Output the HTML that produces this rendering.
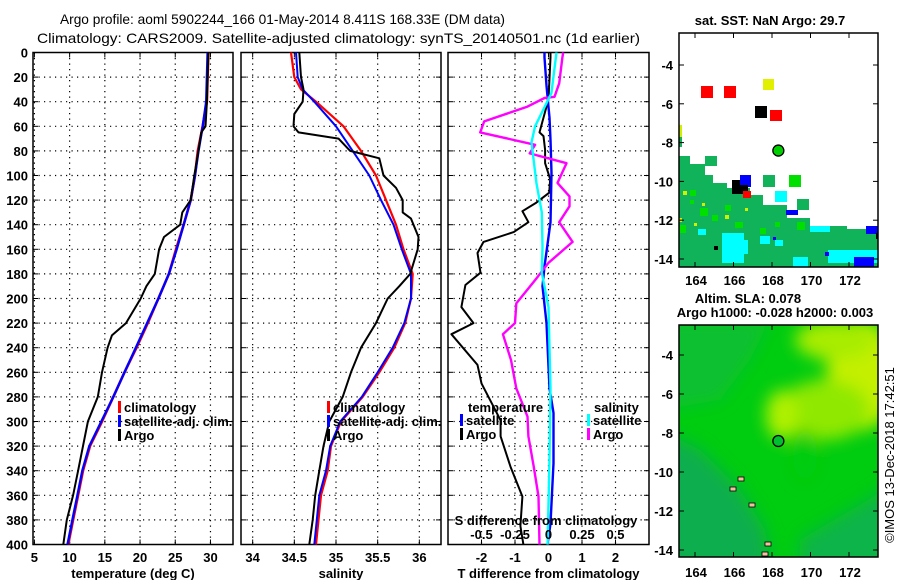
<!DOCTYPE html>
<html><head><meta charset="utf-8">
<style>
html,body{margin:0;padding:0;background:#fff;}
svg{display:block;font-family:"Liberation Sans",Arial,sans-serif;}
.tk{font-size:13px;font-weight:bold;}
</style></head>
<body>
<svg id="fig" width="900" height="580" viewBox="0 0 900 580">
<rect width="900" height="580" fill="#fff"/>
<text x="60" y="24" font-size="14" textLength="445" lengthAdjust="spacingAndGlyphs">Argo profile: aoml 5902244_166 01-May-2014 8.411S 168.33E (DM data)</text>
<text x="37" y="43" font-size="14" textLength="603" lengthAdjust="spacingAndGlyphs">Climatology: CARS2009. Satellite-adjusted climatology: synTS_20140501.nc (1d earlier)</text>
<g id="panels"></g>
<g id="maps"></g>
</svg>
<script>
// ---------- data ----------
const depths = [0,20,40,60,80,100,120,140,160,180,200,220,240,260,280,300,320,340,360,380,400];
const tempClim = [29.7,29.6,29.5,28.9,28.2,27.8,27.2,26.2,25.1,24.1,22.6,21.1,19.5,17.8,16.2,14.6,12.9,11.9,11.2,10.5,9.8];
const tempSat  = [29.6,29.5,29.4,28.9,28.3,27.8,27.2,26.2,25.2,24.1,22.6,21.0,19.4,17.8,16.2,14.5,12.8,11.8,11.1,10.4,9.7];
const argoDepths = [0,20,40,60,65,80,100,120,130,140,150,160,180,190,200,220,230,240,260,280,300,320,340,360,380,400];
const tempArgo = [29.7,29.6,29.5,29.3,28.7,28.3,27.7,27.2,26.0,25.7,23.4,22.7,22.1,20.9,20.1,18.0,16.0,15.4,14.6,14.0,12.6,11.9,11.2,10.5,9.6,9.1];
const salDepths = [0,20,30,40,60,80,100,120,140,160,180,200,220,240,260,280,300,320,340,360,380,400];
const salClim = [34.46,34.50,34.58,34.76,35.09,35.30,35.48,35.60,35.72,35.81,35.92,35.90,35.83,35.70,35.52,35.32,35.06,34.94,34.90,34.82,34.79,34.76];
const salSat  = [34.52,34.54,34.60,34.74,35.00,35.20,35.40,35.54,35.69,35.79,35.90,35.90,35.82,35.68,35.50,35.31,35.05,34.93,34.88,34.80,34.77,34.74];
const salArgoDepths = [0,20,30,40,50,60,65,70,80,86,100,110,120,130,135,150,160,180,190,200,220,240,260,280,300,320,340,360,380,400];
const salArgo = [34.56,34.58,34.61,34.60,34.50,34.49,34.55,35.03,35.17,35.52,35.57,35.72,35.80,35.80,35.90,35.99,35.98,35.89,35.76,35.62,35.48,35.30,35.18,35.08,34.92,34.85,34.80,34.75,34.72,34.68];
const dTDepths = [0,4,38,65,68,79,90,103,114,122,129,138,146,154,163,179,189,207,220,229,254,269,299,312,337,361,385,400];
const dTArgo = [0.06,0.06,0,-0.27,-0.15,-0.1,-0.1,0.05,0.02,-0.36,-0.78,-0.6,-1.04,-1.94,-2.12,-2.03,-2.48,-2.6,-2.24,-2.9,-2.12,-2.0,-1.43,-1.43,-1.13,-0.78,-0.84,-0.75];
const dSDepths = [0,4,25,36,37,44,56,65,75,82,90,106,117,125,138,154,171,185,204,220,229,250,273,296,312,337,361,400];
const dSArgo = [0.11,0.104,0.08,0.045,-0.03,-0.157,-0.48,-0.51,-0.1,-0.14,0.134,0.067,0.157,0.157,0.08,0.18,0,-0.1,-0.24,-0.25,-0.34,-0.28,-0.24,-0.157,-0.15,-0.11,-0.075,-0.067];
const dSSatDepths = [0,33,60,73,106,130,158,179,207,273,334,400];
const dSSat = [0.06,0.022,-0.1,-0.127,-0.09,-0.05,-0.045,-0.05,0,0.015,0.007,-0.007];
const dTSatDepths = [0,4,27,53,71,98,138,174,190,220,273,293,334,383,400];
const dTSat = [-0.12,-0.12,-0.06,0.03,0.06,0.09,0.06,-0.12,-0.18,-0.06,0.03,0.15,0.15,0.06,-0.03];
const depthTicks = [0,20,40,60,80,100,120,140,160,180,200,220,240,260,280,300,320,340,360,380,400];
const tTicks = [5,10,15,20,25,30];
const sTicks = [34,34.5,35,35.5,36];
const dTTicks = [-2,-1,0,1,2];
const dSTicks = ["-0.5","-0.25","0","0.25","0.5"];
const lonTicks = [164,166,168,170,172];
const latTicks = [-4,-6,-8,-10,-12,-14];

// ---------- helpers ----------
const NS="http://www.w3.org/2000/svg";
function mk(tag,attrs,parent){const e=document.createElementNS(NS,tag);for(const k in attrs)e.setAttribute(k,attrs[k]);(parent||document.getElementById('fig')).appendChild(e);return e;}
const Y0=52.5, Y1=544.5;
const yD=d=>Y0+(d/400)*(Y1-Y0);
function lin(d0,d1,r0,r1){return v=>r0+(v-d0)/(d1-d0)*(r1-r0);}
const panels=[
 {x0:33,x1:233,name:'temperature-panel',sx:lin(4.8,33.2,33,233),ticks:tTicks,title:'temperature (deg C)'},
 {x0:241,x1:441,name:'salinity-panel',sx:lin(33.86,36.26,241,441),ticks:sTicks,title:'salinity'},
 {x0:448,x1:649,name:'difference-panel',sx:lin(-3,3,448,649),ticks:dTTicks,title:'T difference from climatology'}
];
const G=document.getElementById('panels');
panels.forEach((p,pi)=>{
  const g=mk('g',{},G);
  
  
  depthTicks.forEach(d=>{
    const y=yD(d);
    if(d>0&&d<400){
      const l=mk('line',{x1:p.x0,x2:p.x1,y1:y,y2:y,stroke:'#000','stroke-width':1.2,'stroke-dasharray':'1.2,4.3'},g);
      
      
    }
    mk('line',{x1:p.x0,x2:p.x0+5,y1:y,y2:y,stroke:'#000','stroke-width':1},g);
    mk('line',{x1:p.x1-5,x2:p.x1,y1:y,y2:y,stroke:'#000','stroke-width':1},g);
    if(pi===0){
      const t=mk('text',{x:28,y:y+5,'text-anchor':'end',class:'tk'},g);
      t.textContent=d;
      
      
    }
  });
  p.ticks.forEach(v=>{
    const x=p.sx(v);
    const l=mk('line',{x1:x,x2:x,y1:Y0,y2:Y1,stroke:'#000','stroke-width':1.2,'stroke-dasharray':'1.2,4.3'},g);
    
    
    mk('line',{x1:x,x2:x,y1:Y1-5,y2:Y1,stroke:'#000'},g);
    mk('line',{x1:x,x2:x,y1:Y0,y2:Y0+5,stroke:'#000'},g);
    const t=mk('text',{x:x,y:562,'text-anchor':'middle',class:'tk'},g);
    t.textContent=v;
    
    
  });
  const b=mk('rect',{x:p.x0,y:Y0,width:p.x1-p.x0,height:Y1-Y0,fill:'none',stroke:'#000','stroke-width':1.5},g);
  
  
  const tt=mk('text',{x:(p.x0+p.x1)/2,y:578,'text-anchor':'middle',class:'tk'},g);
  tt.textContent=p.title;
  
  
  p.g=g;
});
function series(p,ds,vs,color,name,w,scale){
  const pts=ds.map((d,i)=>p.sx(vs[i]*(scale||1)).toFixed(1)+','+yD(d).toFixed(1)).join(' ');
  const l=mk('polyline',{points:pts,fill:'none',stroke:color,'stroke-width':w||2.2,'stroke-linejoin':'round'},p.g);
  
  
}
series(panels[0],depths,tempClim,'#f00','temperature-climatology-line',2.6);
series(panels[0],depths,tempSat,'#00f','temperature-satellite-line',2.4);
series(panels[0],argoDepths,tempArgo,'#000','temperature-argo-line',2);
series(panels[1],salDepths,salClim,'#f00','salinity-climatology-line',2.2);
series(panels[1],salDepths,salSat,'#00f','salinity-satellite-line',2);
series(panels[1],salArgoDepths,salArgo,'#000','salinity-argo-line',2);
series(panels[2],dTDepths,dTArgo,'#000','t-diff-argo-line',2);
series(panels[2],dTSatDepths,dTSat,'#00f','t-diff-satellite-line',2.4);
series(panels[2],dSDepths,dSArgo,'#f0f','s-diff-argo-line',2.4,4);
series(panels[2],dSSatDepths,dSSat,'#0ff','s-diff-satellite-line',2.4,4);

function legend(g,x,y,color,text,name){
  if(color){mk('rect',{x:x,y:y-11,width:3,height:12,fill:color},g);}
  const t=mk('text',{x:x+6,y:y,class:'tk'},g);
  t.textContent=text;
  
  
}
legend(panels[0].g,118,412,'#f00','climatology','legend-climatology');
legend(panels[0].g,118,426,'#00f','satellite-adj. clim.','legend-satellite-adj');
legend(panels[0].g,118,440,'#000','Argo','legend-argo');
legend(panels[1].g,327,412,'#f00','climatology','legend-climatology');
legend(panels[1].g,327,426,'#00f','satellite-adj. clim.','legend-satellite-adj');
legend(panels[1].g,327,440,'#000','Argo','legend-argo');
legend(panels[2].g,462,412,null,'temperature','legend-temperature-heading');
legend(panels[2].g,460,425,'#00f','satellite','legend-t-satellite');
legend(panels[2].g,460,439,'#000','Argo','legend-t-argo');
legend(panels[2].g,588,412,null,'salinity','legend-salinity-heading');
legend(panels[2].g,587,425,'#0ff','satellite','legend-s-satellite');
legend(panels[2].g,587,439,'#f0f','Argo','legend-s-argo');
{
  const g=panels[2].g;
  const t=mk('text',{x:546,y:525,'text-anchor':'middle',class:'tk'},g);
  t.textContent='S difference from climatology';
  
  
  dSTicks.forEach(s=>{
    const tx=mk('text',{x:panels[2].sx(parseFloat(s)*4),y:539,'text-anchor':'middle',class:'tk'},g);
    tx.textContent=s;
    
    
  });
}

// ---------- maps ----------
const M=document.getElementById('maps');
const lonX=lin(164,172,695,849);
function mapAxes(g,top,bot,yA,yB,labelY){
  const latY=lin(-4,-14,yA,yB);
  latTicks.forEach(v=>{
    const y=latY(v);
    mk('line',{x1:679,x2:684,y1:y,y2:y,stroke:'#000'},g);
    mk('line',{x1:873,x2:878,y1:y,y2:y,stroke:'#000'},g);
    const t=mk('text',{x:673,y:y+5,'text-anchor':'end',class:'tk'},g);
    t.textContent=v;
    
    
  });
  lonTicks.forEach(v=>{
    const x=lonX(v);
    mk('line',{x1:x,x2:x,y1:top,y2:top+5,stroke:'#000'},g);
    mk('line',{x1:x,x2:x,y1:bot-5,y2:bot,stroke:'#000'},g);
    const t=mk('text',{x:x+1,y:labelY,'text-anchor':'middle',class:'tk'},g);
    t.textContent=v;
    
    
  });
  mk('rect',{x:679,y:top,width:199,height:bot-top,fill:'none',stroke:'#000','stroke-width':1.5},g);
}
// top SST map
const g1=mk('g',{},M);


const d1=mk('defs',{},g1);
const c1=mk('clipPath',{id:'c1'},d1);
mk('rect',{x:679,y:33,width:199,height:234},c1);
const m1=mk('g',{'clip-path':'url(#c1)'},g1);
mk('polygon',{points:'679,156 690,156 690,164 705,164 705,175 713,175 713,183 727,183 727,188 750,188 750,195 763,195 763,205 787,205 787,218 810,218 810,226 847,226 847,229 878,229 878,267 679,267',fill:'#10b25a'},m1);
const rects=[
 ['#10b25a',705,156,12,10],['#10b25a',763,175,12,12],['#10b25a',797,199,12,11],
 ['#00e000',789,175,12,12],['#0ff',775,191,12,11],
 ['#0ff',722,233,22,30],['#0ff',738,240,10,14],['#0ff',793,257,15,10],['#0ff',828,250,50,13],['#0ff',810,226,20,6],['#0ff',698,229,8,6],['#0ff',760,236,10,8],['#0ff',775,240,8,6],
 ['#00f',740,175,11,12],['#00f',866,226,12,8],['#00f',854,257,20,10],['#00f',786,210,12,5],['#00f',773,237,3,3],['#00f',825,252,4,4],
 ['#000',732,180,8,14],['#000',736,185,12,9],['#000',714,246,4,4],['#000',876,233,3,6],
 ['#f00',743,191,8,7],
 ['#00e000',690,190,6,6],['#00e000',700,208,8,8],['#00e000',712,215,6,6],['#00e000',725,205,6,6],['#00e000',735,222,8,6],['#00e000',680,225,6,8],['#00e000',690,200,4,4],['#00e000',760,228,6,6],['#00e000',775,222,5,5],['#00e000',797,222,8,8],
 ['#d0f000',683,191,4,4],['#d0f000',702,203,3,3],['#d0f000',725,215,4,4],['#d0f000',745,208,3,3],['#d0f000',679,218,3,4],['#d0f000',694,223,3,3],['#d0f000',679,125,3,12],['#10b25a',679,137,3,10],
 ['#f00',701,86,12,12],['#f00',724,86,12,12],['#e0f000',763,79,11,11],['#000',755,106,12,12],['#f00',770,110,12,11]
];
rects.forEach(r=>{
  const e=mk('rect',{fill:r[0],x:r[1],y:r[2],width:r[3],height:r[4]},m1);
  
  
});
{const c=mk('circle',{cx:lonX(168.33),cy:lin(-4,-14,65,259)(-8.411),r:5.5,fill:'#00d000',stroke:'#000','stroke-width':1.3},g1);

}
mapAxes(g1,33,267,65,259,285);
{const t=mk('text',{x:770,y:25,'text-anchor':'middle',class:'tk'},g1);
t.textContent='sat. SST: NaN Argo: 29.7';

}

// bottom SLA map
const g2=mk('g',{},M);


const defs=mk('defs',{},g2);
const f=mk('filter',{id:'bl',x:'-50%',y:'-50%',width:'200%',height:'200%'},defs);
mk('feGaussianBlur',{stdDeviation:8},f);
const cp=mk('clipPath',{id:'c2'},defs);
mk('rect',{x:679,y:325,width:199,height:232},cp);
const m2=mk('g',{'clip-path':'url(#c2)'},g2);
mk('rect',{x:679,y:325,width:199,height:232,fill:'#00cc10'},m2);
const blobs=m2.appendChild(document.createElementNS(NS,'g'));
blobs.setAttribute('filter','url(#bl)');
mk('polygon',{points:'660,430 700,450 740,490 765,530 770,570 660,570',fill:'#10ae4e'},blobs);
mk('polygon',{points:'800,540 860,505 900,480 900,570 800,570',fill:'#0cb448'},blobs);
mk('polygon',{points:'660,320 770,320 750,360 720,400 660,410',fill:'#08c030'},blobs);
mk('ellipse',{cx:862,cy:375,rx:35,ry:55,fill:'#c4f000'},blobs);
mk('ellipse',{cx:835,cy:340,rx:40,ry:20,fill:'#a8ec00'},blobs);
mk('ellipse',{cx:825,cy:410,rx:45,ry:30,fill:'#90e800'},blobs);
mk('ellipse',{cx:782,cy:415,rx:16,ry:25,fill:'#b0f000'},blobs);
mk('ellipse',{cx:805,cy:455,rx:12,ry:25,fill:'#00cc10'},blobs);
[[738,477],[730,487],[749,503],[765,542],[762,552]].forEach(p=>{
  const e=mk('rect',{x:p[0],y:p[1],width:6,height:4,fill:'#f4c0a0',stroke:'#000','stroke-width':0.8},m2);
  
  
});
{const c=mk('circle',{cx:lonX(168.33),cy:lin(-4,-14,355,550)(-8.411),r:5.5,fill:'#00c030',stroke:'#000','stroke-width':1.3},g2);

}
mapAxes(g2,325,557,355,550,577);
{const t=mk('text',{x:748,y:303,'text-anchor':'middle',class:'tk'},g2);
t.textContent='Altim. SLA: 0.078';


const t2=mk('text',{x:775,y:317,'text-anchor':'middle',class:'tk'},g2);
t2.textContent='Argo h1000: -0.028 h2000: 0.003';


const t3=mk('text',{x:0,y:0,'text-anchor':'middle','font-size':13,transform:'translate(894,455) rotate(-90)'},g2);
t3.textContent='©IMOS 13-Dec-2018 17:42:51';

}
</script>
</body></html>
